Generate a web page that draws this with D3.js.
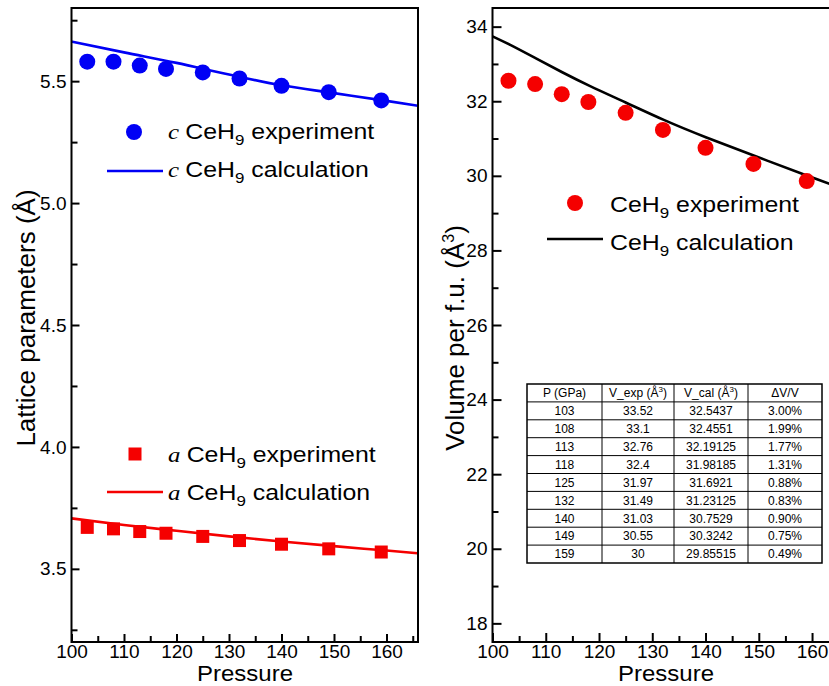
<!DOCTYPE html>
<html>
<head>
<meta charset="utf-8">
<script src="https://cdn.jsdelivr.net/npm/d3@7"></script>
<style>
  html, body { margin: 0; padding: 0; background: #fff; }
  svg { display: block; }
  text { font-family: "Liberation Sans", Arial, sans-serif; fill: #000; }
</style>
</head>
<body>
<svg id="chart" width="829" height="686"></svg>
<script>
// ---------- data ----------
const pressures = [103, 108, 113, 118, 125, 132, 140, 149, 159];
const cExp = [5.580, 5.580, 5.564, 5.550, 5.536, 5.511, 5.481, 5.455, 5.421];
const aExp = [3.670, 3.664, 3.653, 3.646, 3.633, 3.616, 3.601, 3.582, 3.569];
const calcP = [100, 110, 120, 130, 140, 150, 160, 166];
const cCalc = [5.662, 5.618, 5.575, 5.527, 5.483, 5.451, 5.419, 5.399];
const aCalc = [3.707, 3.680, 3.656, 3.633, 3.612, 3.593, 3.575, 3.564];
const volExp = [32.55, 32.46, 32.19, 31.98, 31.69, 31.23, 30.75, 30.32, 29.86];
const volCalcP = [100, 103, 108, 113, 118, 125, 132, 140, 149, 159, 166];
const volCalc = [33.74, 33.54, 33.16, 32.78, 32.42, 31.97, 31.50, 31.03, 30.55, 30.00, 29.65];

const xMajor = [100, 110, 120, 130, 140, 150, 160];
const xMinor = [105, 115, 125, 135, 145, 155, 165];
const yLMajor = [3.5, 4.0, 4.5, 5.0, 5.5];
const yLMinor = [3.25, 3.75, 4.25, 4.75, 5.25, 5.75];
const yRMajor = [18, 20, 22, 24, 26, 28, 30, 32, 34];
const yRMinor = [19, 21, 23, 25, 27, 29, 31, 33];

const tableHeader = ["P (GPa)", "V_exp (Å³)", "V_cal (Å³)", "ΔV/V"];
const tableP = ["103", "108", "113", "118", "125", "132", "140", "149", "159"];
const tableVexp = ["33.52", "33.1", "32.76", "32.4", "31.97", "31.49", "31.03", "30.55", "30"];
const tableVcal = ["32.5437", "32.4551", "32.19125", "31.98185", "31.6921", "31.23125", "30.7529", "30.3242", "29.85515"];
const tableDV = ["3.00%", "1.99%", "1.77%", "1.31%", "0.88%", "0.83%", "0.90%", "0.75%", "0.49%"];

// ---------- setup ----------
const svg = d3.select("#chart");
svg.append("rect").attr("width", 829).attr("height", 686).attr("fill", "#fff");

const yTop = 8, yBot = 642;
const xL = d3.scaleLinear().domain([100, 166]).range([71.5, 418]);
const yL = d3.scaleLinear().domain([3.2, 5.8]).range([yBot, yTop]);
const xR = d3.scaleLinear().domain([100, 166]).range([492.5, 844]);
const yR = d3.scaleLinear().domain([17.5, 34.5]).range([yBot, yTop]);

const BLUE = "#0000f5", RED = "#f50000";
const tickFont = 19;

function axes(g, x, y, yMaj, yMin, yFmt, ox, majLen, minLen) {
  const bx = g.append("g").attr("transform", `translate(0,${yBot})`)
    .call(d3.axisBottom(x).tickValues(xMajor).tickSize(-majLen).tickPadding(2).tickFormat(d3.format("d")));
  const bxm = g.append("g").attr("transform", `translate(0,${yBot})`)
    .call(d3.axisBottom(x).tickValues(xMinor).tickSize(-minLen).tickFormat(""));
  const ly = g.append("g").attr("transform", `translate(${ox},0)`)
    .call(d3.axisLeft(y).tickValues(yMaj).tickSize(-majLen).tickPadding(5).tickFormat(yFmt));
  const lym = g.append("g").attr("transform", `translate(${ox},0)`)
    .call(d3.axisLeft(y).tickValues(yMin).tickSize(-minLen).tickFormat(""));
  [bx, bxm, ly, lym].forEach(a => {
    a.select(".domain").remove();
    a.selectAll("line").attr("stroke", "#000").attr("stroke-width", 2);
    a.selectAll("text").attr("font-size", tickFont).attr("font-family", "Liberation Sans, Arial, sans-serif").attr("fill", "#000");
  });
}

// ---------- left panel ----------
const gL = svg.append("g");
axes(gL, xL, yL, yLMajor, yLMinor, d3.format(".1f"), xL.range()[0], 8, 6);

const lineL = d3.line().x(d => xL(d[0])).y(d => yL(d[1])).curve(d3.curveMonotoneX);
svg.append("clipPath").attr("id", "clipL").append("rect")
  .attr("x", xL.range()[0]).attr("y", yTop).attr("width", xL.range()[1] - xL.range()[0]).attr("height", yBot - yTop);

gL.append("path").datum(calcP.map((p, i) => [p, cCalc[i]]))
  .attr("d", lineL).attr("fill", "none").attr("stroke", BLUE).attr("stroke-width", 2.6).attr("clip-path", "url(#clipL)");
gL.append("path").datum(calcP.map((p, i) => [p, aCalc[i]]))
  .attr("d", lineL).attr("fill", "none").attr("stroke", RED).attr("stroke-width", 2.6).attr("clip-path", "url(#clipL)");

gL.selectAll("circle.c").data(pressures).join("circle").attr("class", "c")
  .attr("cx", d => xL(d)).attr("cy", (d, i) => yL(cExp[i])).attr("r", 8).attr("fill", BLUE);
gL.selectAll("rect.a").data(pressures).join("rect").attr("class", "a")
  .attr("x", d => xL(d) - 6.5).attr("y", (d, i) => yL(aExp[i]) - 6.5).attr("width", 13).attr("height", 13).attr("fill", RED);

gL.append("rect").attr("x", xL.range()[0]).attr("y", yTop)
  .attr("width", xL.range()[1] - xL.range()[0]).attr("height", yBot - yTop)
  .attr("fill", "none").attr("stroke", "#000").attr("stroke-width", 2);

// ---------- right panel ----------
const gR = svg.append("g");
axes(gR, xR, yR, yRMajor, yRMinor, d3.format("d"), xR.range()[0], 9, 6);

const lineR = d3.line().x(d => xR(d[0])).y(d => yR(d[1])).curve(d3.curveBasis);
gR.append("path").datum(volCalcP.map((p, i) => [p, volCalc[i]]))
  .attr("d", lineR).attr("fill", "none").attr("stroke", "#000").attr("stroke-width", 2.6);
gR.selectAll("circle.v").data(pressures).join("circle").attr("class", "v")
  .attr("cx", d => xR(d)).attr("cy", (d, i) => yR(volExp[i])).attr("r", 8).attr("fill", RED);

gR.append("rect").attr("x", xR.range()[0]).attr("y", yTop)
  .attr("width", xR.range()[1] - xR.range()[0]).attr("height", yBot - yTop)
  .attr("fill", "none").attr("stroke", "#000").attr("stroke-width", 2);

// ---------- axis titles ----------
const titleSize = 22;
svg.append("text").attr("transform", "translate(245,681) scale(1.09,1)").attr("text-anchor", "middle").attr("font-size", titleSize).text("Pressure");
svg.append("text").attr("transform", "translate(666,681) scale(1.09,1)").attr("text-anchor", "middle").attr("font-size", titleSize).text("Pressure");

const yTitleSize = 26;
const tl = svg.append("text").attr("transform", "translate(35,318) rotate(-90)")
  .attr("text-anchor", "middle").attr("font-size", yTitleSize);
tl.append("tspan").text("Lattice parameters (Å)");

const tr = svg.append("text").attr("transform", "translate(464,338) rotate(-90)")
  .attr("text-anchor", "middle").attr("font-size", yTitleSize);
tr.append("tspan").text("Volume per f.u. (Å");
tr.append("tspan").attr("font-size", 16).attr("dy", -10).text("3");
tr.append("tspan").attr("dy", 10).text(")");

// ---------- legends ----------
const legSize = 22;
function legText(x, y, letter, rest) {
  const t = svg.append("text").attr("transform", `translate(${x},${y}) scale(1.13,1)`).attr("font-size", legSize);
  if (letter) {
    t.append("tspan").attr("font-family", "Liberation Serif, Times New Roman, serif").attr("font-style", "italic").text(letter + " ");
  }
  t.append("tspan").text("CeH");
  t.append("tspan").attr("font-size", 15).attr("dy", 6).text("9");
  t.append("tspan").attr("dy", -6).text(" " + rest);
}
// c legend
svg.append("circle").attr("cx", 134).attr("cy", 132).attr("r", 8).attr("fill", BLUE);
legText(168, 139, "c", "experiment");
svg.append("line").attr("x1", 107).attr("x2", 163).attr("y1", 171).attr("y2", 171).attr("stroke", BLUE).attr("stroke-width", 2.6);
legText(168, 177, "c", "calculation");
// a legend
svg.append("rect").attr("x", 128.5).attr("y", 447.5).attr("width", 13).attr("height", 13).attr("fill", RED);
legText(168, 462, "a", "experiment");
svg.append("line").attr("x1", 107).attr("x2", 163).attr("y1", 492).attr("y2", 492).attr("stroke", RED).attr("stroke-width", 2.6);
legText(168, 500, "a", "calculation");
// volume legend
svg.append("circle").attr("cx", 575).attr("cy", 203).attr("r", 8).attr("fill", RED);
legText(610, 212, null, "experiment");
svg.append("line").attr("x1", 547).attr("x2", 603).attr("y1", 239).attr("y2", 239).attr("stroke", "#000").attr("stroke-width", 2.6);
legText(610, 250, null, "calculation");

// ---------- table ----------
const tx = [527, 602, 674, 748, 822];
const ty0 = 384, rowH = 17.9;
const rows = tableP.map((p, i) => [p, tableVexp[i], tableVcal[i], tableDV[i]]);
const gT = svg.append("g");
gT.append("rect").attr("x", tx[0]).attr("y", ty0).attr("width", tx[4] - tx[0]).attr("height", rowH * 10)
  .attr("fill", "#fff").attr("stroke", "#000").attr("stroke-width", 1.5);
for (let r = 1; r < 10; r++) {
  gT.append("line").attr("x1", tx[0]).attr("x2", tx[4]).attr("y1", ty0 + r * rowH).attr("y2", ty0 + r * rowH)
    .attr("stroke", "#000").attr("stroke-width", 1);
}
for (let c = 1; c < 4; c++) {
  gT.append("line").attr("x1", tx[c]).attr("x2", tx[c]).attr("y1", ty0).attr("y2", ty0 + rowH * 10)
    .attr("stroke", "#000").attr("stroke-width", 1);
}
const tFont = 12;
tableHeader.forEach((h, c) => {
  const t = gT.append("text").attr("x", (tx[c] + tx[c + 1]) / 2).attr("y", ty0 + rowH / 2 + 4.5)
    .attr("text-anchor", "middle").attr("font-size", tFont);
  const m = h.match(/^(.*Å)³(\))$/);
  if (m) {
    t.append("tspan").text(m[1]);
    t.append("tspan").attr("font-size", 8).attr("dy", -5).text("3");
    t.append("tspan").attr("dy", 5).text(m[2]);
  } else {
    t.text(h);
  }
});
rows.forEach((row, r) => {
  row.forEach((v, c) => {
    gT.append("text").attr("x", (tx[c] + tx[c + 1]) / 2).attr("y", ty0 + (r + 1) * rowH + rowH / 2 + 4.3)
      .attr("text-anchor", "middle").attr("font-size", tFont).text(v);
  });
});
</script>
</body>
</html>
